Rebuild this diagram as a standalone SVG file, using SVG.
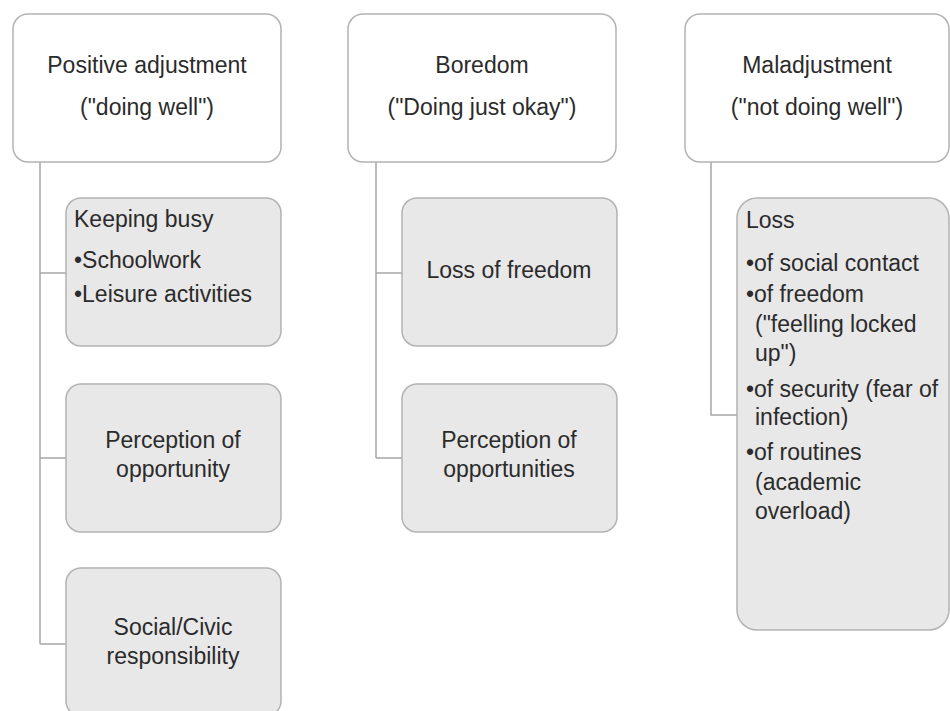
<svg xmlns="http://www.w3.org/2000/svg" width="950" height="711" viewBox="0 0 950 711">
<style>
.bg{fill:#ffffff}
.top{fill:#ffffff;stroke:#b3b3b3;stroke-width:1.5}
.child{fill:#e8e8e8;stroke:#b3b3b3;stroke-width:1.5}
.conn{fill:none;stroke:#a6a6a6;stroke-width:1.5}
text{font-family:"Liberation Sans",Arial,sans-serif;font-size:23px;fill:#2b2b2b}
.c{text-anchor:middle}
</style>
<rect class="bg" x="0" y="0" width="950" height="711"/>
<g id="connectors">
<path class="conn" d="M40,162 V644 M40,273 H66 M40,458 H66 M40,644 H66"/>
<path class="conn" d="M376,162 V458 M376,273 H402 M376,458 H402"/>
<path class="conn" d="M711,162 V415 H737"/>
</g>
<g id="positive">
<rect class="top" x="13" y="14" width="268" height="148" rx="15"/>
<text class="c" x="147" y="73">Positive adjustment</text>
<text class="c" x="147" y="115">("doing well")</text>
</g>
<g id="boredom">
<rect class="top" x="348" y="14" width="268" height="148" rx="15"/>
<text class="c" x="482" y="73">Boredom</text>
<text class="c" x="482" y="115">("Doing just okay")</text>
</g>
<g id="maladjustment">
<rect class="top" x="685" y="14" width="264" height="148" rx="15"/>
<text class="c" x="817" y="73">Maladjustment</text>
<text class="c" x="817" y="115">("not doing well")</text>
</g>
<g id="keeping-busy">
<rect class="child" x="66" y="198" width="215" height="148" rx="15"/>
<text x="74" y="227">Keeping busy</text>
<text x="74" y="268">•Schoolwork</text>
<text x="74" y="302">•Leisure activities</text>
</g>
<g id="perception-opportunity">
<rect class="child" x="66" y="384" width="215" height="148" rx="15"/>
<text class="c" x="173" y="448">Perception of</text>
<text class="c" x="173" y="477">opportunity</text>
</g>
<g id="social-civic">
<rect class="child" x="66" y="568" width="215" height="148" rx="15"/>
<text class="c" x="173" y="635">Social/Civic</text>
<text class="c" x="173" y="664">responsibility</text>
</g>
<g id="loss-freedom">
<rect class="child" x="402" y="198" width="215" height="148" rx="15"/>
<text class="c" x="509" y="278">Loss of freedom</text>
</g>
<g id="perception-opportunities">
<rect class="child" x="402" y="384" width="215" height="148" rx="15"/>
<text class="c" x="509" y="448">Perception of</text>
<text class="c" x="509" y="477">opportunities</text>
</g>
<g id="loss">
<rect class="child" x="737" y="198" width="212" height="432" rx="20"/>
<text x="746" y="228">Loss</text>
<text x="746" y="271">•of social contact</text>
<text x="746" y="302">•of freedom</text>
<text x="755" y="332">("feelling locked</text>
<text x="755" y="361">up")</text>
<text x="746" y="397">•of security (fear of</text>
<text x="755" y="425">infection)</text>
<text x="746" y="460">•of routines</text>
<text x="755" y="490">(academic</text>
<text x="755" y="519">overload)</text>
</g>
</svg>
